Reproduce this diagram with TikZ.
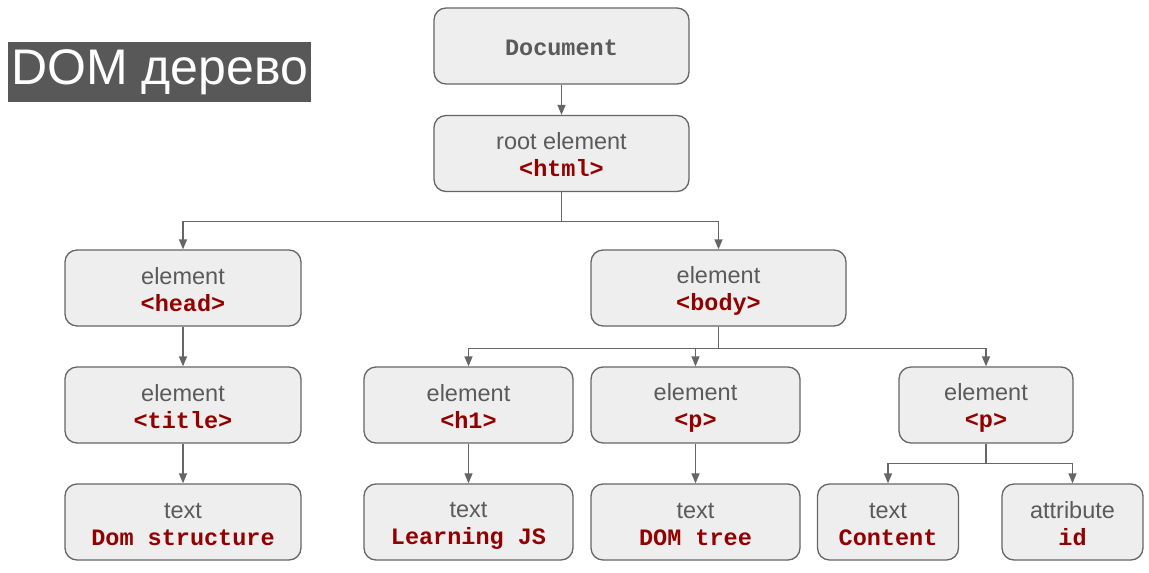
\documentclass[tikz,border=0pt]{standalone}
\usepackage{fontspec}
\setmainfont{Liberation Sans}
\newfontfamily\codefont{Liberation Mono}
\usepackage{xcolor}
\usetikzlibrary{arrows.meta}

\definecolor{boxfill}{HTML}{EEEEEE}
\definecolor{boxline}{HTML}{666666}
\definecolor{labelgray}{HTML}{5A5A5A}
\definecolor{codered}{HTML}{930000}
\definecolor{titlebg}{HTML}{585858}

\newcommand{\tagtext}[1]{{\codefont\bfseries\color{codered}#1}}
\newcommand{\domlabel}[2]{\rule{0pt}{22pt}#1\\\tagtext{#2}\rule[-3pt]{0pt}{3pt}}

\tikzset{
  domnode/.style={draw=boxline,fill=boxfill,line width=1.3pt,rounded corners=12pt,
    minimum height=76pt,align=center,text=labelgray,inner sep=0pt,
    font=\fontsize{23.5}{27}\selectfont},
  link/.style={draw=boxline,line width=1.3pt,-{Triangle[length=10pt,width=8pt]}}
}

\begin{document}
\begin{tikzpicture}[x=1pt,y=-1pt]
    \useasboundingbox (0,0) rectangle (1149,573);
    %
    \node[fill=titlebg,text=white,minimum width=303pt,minimum height=60pt,inner sep=0pt,
      font=\fontsize{50}{56}\selectfont] (heading) at (159.5,72) {DOM дерево};
    %
    \node[domnode,minimum width=255pt,text height=20pt,text depth=2pt] (document) at (561.5,46)
      {\codefont\bfseries Document};
    \node[domnode,minimum width=255pt] (root) at (561.5,153.5)
      {\domlabel{root element}{<html>}};
    \node[domnode,minimum width=236pt] (head) at (183,288)
      {\domlabel{element}{<head>}};
    \node[domnode,minimum width=255pt] (body) at (718.5,288)
      {\domlabel{element}{<body>}};
    \node[domnode,minimum width=236pt] (title) at (183,405)
      {\domlabel{element}{<title>}};
    \node[domnode,minimum width=209pt] (hone) at (468.5,405)
      {\domlabel{element}{<h1>}};
    \node[domnode,minimum width=209pt] (pone) at (695.5,405)
      {\domlabel{element}{<p>}};
    \node[domnode,minimum width=174pt] (ptwo) at (986,405)
      {\domlabel{element}{<p>}};
    \node[domnode,minimum width=236pt] (titletext) at (183,522)
      {\domlabel{text}{Dom structure}};
    \node[domnode,minimum width=209pt] (honetext) at (468.5,522)
      {\domlabel{text}{Learning JS}};
    \node[domnode,minimum width=209pt] (ponetext) at (695.5,522)
      {\domlabel{text}{DOM tree}};
    \node[domnode,minimum width=141pt] (ptwotext) at (888,522)
      {\domlabel{text}{Content}};
    \node[domnode,minimum width=141pt] (ptwoattr) at (1072.5,522)
      {\domlabel{attribute}{id}};
    %
    \draw[link] (document) -- (root);
    \draw[link] (root.south) -- ++(0,29) -| (head.north);
    \draw[link] (root.south) -- ++(0,29) -| (body.north);
    \draw[link] (head) -- (title);
    \draw[link] (title) -- (titletext);
    \draw[link] (body.south) -- ++(0,22) -| (hone.north);
    \draw[link] (body.south) -- ++(0,22) -| (pone.north);
    \draw[link] (body.south) -- ++(0,22) -| (ptwo.north);
    \draw[link] (hone) -- (honetext);
    \draw[link] (pone) -- (ponetext);
    \draw[link] (ptwo.south) -- ++(0,20) -| (ptwotext.north);
    \draw[link] (ptwo.south) -- ++(0,20) -| (ptwoattr.north);
  \end{tikzpicture}
\end{document}
